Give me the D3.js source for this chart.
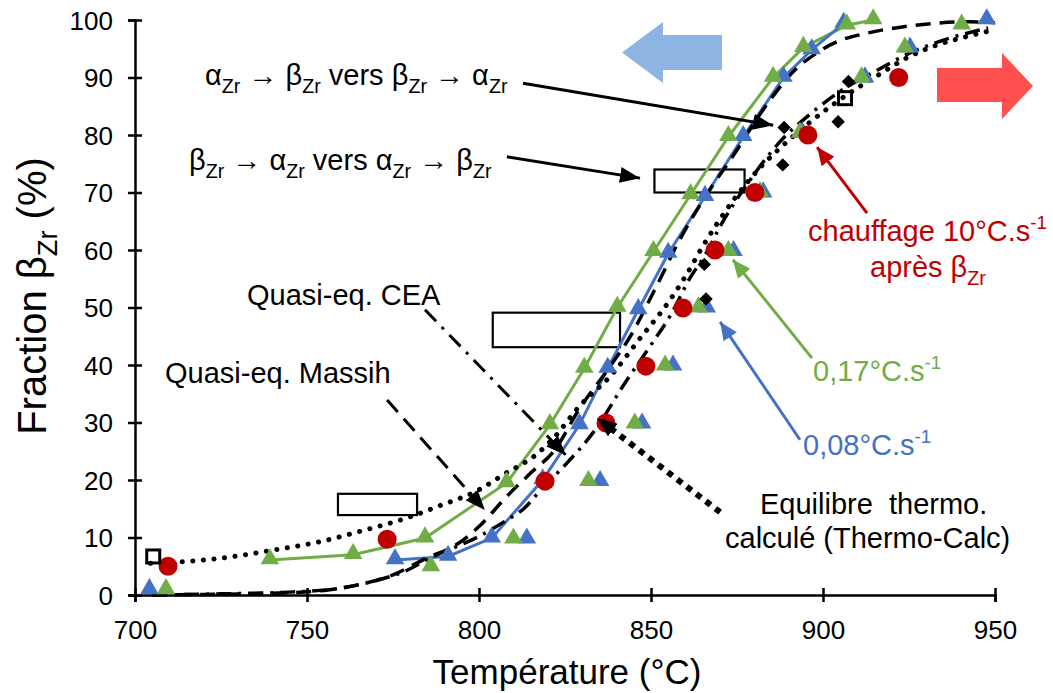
<!DOCTYPE html>
<html><head><meta charset="utf-8">
<script src="https://cdn.jsdelivr.net/npm/d3@7"></script>
<style>
html,body{margin:0;padding:0;background:#fff;}
svg text{font-family:"Liberation Sans",Arial,sans-serif;}
</style></head>
<body>
<svg id="c" width="1053" height="693"></svg>
<script>
// ---------- DATA ----------
const tempTicks = [700, 750, 800, 850, 900, 950];
const fracTicks = [0, 10, 20, 30, 40, 50, 60, 70, 80, 90, 100];

// 0,17 °C/s cooling (connected green)
const greenLineT = [739.2, 763.4, 784.3, 808, 820.6, 830.6, 840.2, 850.7, 861.5, 872.5, 885.5, 894.3, 906.9, 914.6];
const greenLineF = [6.1, 7.0, 9.9, 19.5, 29.6, 39.4, 50.0, 59.7, 69.6, 79.7, 90.0, 95.2, 99.1, 100];
// 0,08 °C/s cooling (connected blue)
const blueLineT = [775.6, 791, 803.7, 818.5, 829.2, 837.4, 846.3, 855, 865.7, 876.8, 888.5, 896.7, 906];
const blueLineF = [6.1, 6.7, 9.9, 20.0, 29.6, 39.4, 49.6, 59.4, 69.3, 79.7, 90.0, 94.8, 99.4];
// 0,17 °C/s heating (green, unconnected)
const greenPtsT = [709, 786, 810, 831.8, 845.3, 854.1, 863.8, 872.5, 881.7, 893.3, 911.2, 923.8, 940.3];
const greenPtsF = [0.9, 4.9, 9.7, 19.7, 29.7, 39.8, 49.9, 59.7, 69.9, 80.3, 89.9, 95.1, 99.1];
// 0,08 °C/s heating (blue, unconnected)
const bluePtsT = [704.2, 813.9, 835.2, 847.4, 856.4, 866.2, 874, 882.6, 894, 912.2, 925.3, 947.6];
const bluePtsF = [0.9, 9.7, 19.7, 29.7, 39.8, 49.9, 59.7, 69.9, 80.3, 89.9, 95.1, 100];
// chauffage 10 °C/s après beta (red circles)
const redT = [709.6, 773.3, 819.2, 836.9, 848.5, 859.3, 868.6, 880.2, 895.6, 922];
const redF = [5, 9.7, 19.8, 29.9, 39.8, 49.9, 60, 70, 80, 90];
// black diamonds
const diamondT = [866, 865.5, 888.3, 888.7, 904.4, 907.4];
const diamondF = [51.5, 57.5, 74.8, 81.3, 82.3, 89.3];
// open squares
const squareT = [705.3, 906.4];
const squareF = [6.7, 86.4];

// Equilibre thermo. calculé (Thermo-Calc) – dotted
const tcT = [704.5, 714, 725, 740, 754, 765, 780, 788, 800, 807, 817, 822, 829, 839, 846, 855.5, 860, 865, 874, 882, 888, 897, 909, 916, 925, 932, 941, 950];
const tcF = [5.5, 5.8, 6.4, 7.8, 9.3, 11, 13.6, 15.4, 18.3, 20.9, 24.6, 27.5, 32.7, 38.6, 44, 51.3, 55.4, 60.6, 68.7, 74.5, 78, 82.6, 87.8, 90.4, 93.6, 95.4, 97, 98.3];
// Quasi-eq. Massih – dashed
const massihT = [705, 720, 740, 755, 765, 775, 785, 792.5, 800, 808, 815, 822, 829, 838, 844, 851, 859, 867, 874, 881, 886, 891, 898, 904, 912.7, 923, 932, 942.7, 950];
const massihF = [0, 0.1, 0.3, 0.8, 1.8, 3.5, 6.5, 8.4, 11.9, 17.1, 21.2, 25.2, 32.2, 39.7, 45, 53, 62.5, 70.4, 76.5, 83, 87.2, 90.8, 94.2, 96.2, 97.7, 98.8, 99.4, 99.7, 99.5];
// Quasi-eq. CEA – dash-dot
const ceaT = [705, 725, 745, 760, 770, 778, 786, 800, 808, 813, 818, 825.5, 833, 843, 850, 856, 861, 866, 870, 878, 887, 897, 906, 915, 925, 935, 948];
const ceaF = [0, 0.2, 0.5, 1.2, 2.5, 4, 6.5, 10.2, 13, 15, 18.3, 22.9, 28.1, 37.4, 43.5, 49, 54.8, 59.4, 64, 71.5, 78.5, 84, 88, 91, 94.2, 96.5, 98.6];

// ---------- SETUP ----------
const svg = d3.select("#c");
const x = d3.scaleLinear().domain([700, 950]).range([135, 995]);
const y = d3.scaleLinear().domain([0, 100]).range([595, 20]);
const zip = (a, b) => a.map((v, i) => [v, b[i]]);

const GREEN = "#70AD47", BLUE = "#4472C4", RED = "#C00000";

// defs: arrow markers
const defs = svg.append("defs");
function marker(id, color, w, h) {
  defs.append("marker").attr("id", id)
    .attr("viewBox", `0 0 ${w} ${h}`).attr("refX", w).attr("refY", h / 2)
    .attr("markerWidth", w).attr("markerHeight", h)
    .attr("markerUnits", "userSpaceOnUse").attr("orient", "auto")
    .append("path").attr("d", `M0,0 L${w},${h/2} L0,${h} Z`).attr("fill", color);
}
marker("mk", "#000", 20, 16);
marker("mkr", RED, 18, 16);
marker("mkg", GREEN, 18, 16);
marker("mkb", BLUE, 18, 16);

// ---------- BIG DIRECTION ARROWS ----------
svg.append("path").attr("fill", "#8DB4E2")
  .attr("d", "M622,52.5 L663,22 L663,35 L722,35 L722,70 L663,70 L663,83 Z");
svg.append("path").attr("fill", "#FF5050")
  .attr("d", "M937,68 L1002,68 L1002,53 L1033,86 L1002,119 L1002,102 L937,102 Z");

// ---------- AXES ----------
const gx = svg.append("g").attr("transform", `translate(0,${y(0)})`)
  .call(d3.axisBottom(x).tickValues(tempTicks).tickSizeOuter(0).tickSize(7));
gx.select(".domain").attr("stroke-width", 2.5).attr("stroke", "#000");
gx.selectAll(".tick line").attr("y1", -7).attr("y2", 7).attr("stroke-width", 2.5);
gx.selectAll(".tick text").attr("y", 44).attr("dy", null)
  .attr("font-size", 26).attr("fill", "#000").attr("font-family", "Liberation Sans, Arial, sans-serif");

const gy = svg.append("g").attr("transform", `translate(${x(700)},0)`)
  .call(d3.axisLeft(y).tickValues(fracTicks).tickSizeOuter(0).tickSize(7));
gy.select(".domain").attr("stroke-width", 2.5).attr("stroke", "#000");
gy.selectAll(".tick line").attr("x1", -7).attr("x2", 7).attr("stroke-width", 2.5);
gy.selectAll(".tick text").attr("x", -22).attr("dy", "0.35em")
  .attr("font-size", 26).attr("fill", "#000").attr("font-family", "Liberation Sans, Arial, sans-serif");

// ---------- rich text helper ----------
function rich(parent, px, py, segs, size, fill, opts = {}) {
  const t = parent.append("text").attr("x", px).attr("y", py)
    .attr("font-size", size).attr("fill", fill)
    .attr("text-anchor", opts.anchor || "start")
    .style("white-space", "pre");
  if (opts.transform) t.attr("transform", opts.transform);
  let off = 0;
  segs.forEach(s => {
    let target = 0, fs = size;
    if (s.sub) { target = size * 0.28; fs = size * 0.68; }
    if (s.sup) { target = -size * 0.42; fs = size * 0.65; }
    t.append("tspan").attr("dy", target - off).attr("font-size", fs).text(s.t);
    off = target;
  });
  return t;
}

// axis titles
rich(svg, 567, 684, [{t: "Température (°C)"}], 35, "#000", {anchor: "middle"});
rich(svg, 0, 0, [{t: "Fraction β"}, {t: "Zr", sub: true}, {t: " (%)"}], 40, "#000",
  {anchor: "middle", transform: "translate(46,296) rotate(-90)"});

// ---------- ANNOTATION RECTANGLES ----------
const rects = [[759, 782, 13.9, 17.6], [804, 841, 43.1, 49.1], [851, 877.2, 70, 74]];
svg.append("g").selectAll("rect").data(rects).join("rect")
  .attr("x", d => x(d[0])).attr("y", d => y(d[3]))
  .attr("width", d => x(d[1]) - x(d[0])).attr("height", d => y(d[2]) - y(d[3]))
  .attr("fill", "none").attr("stroke", "#000").attr("stroke-width", 2.2);

// ---------- COLORED SERIES LINES ----------
const line = d3.line().x(d => x(d[0])).y(d => y(d[1]));
svg.append("path").datum(zip(greenLineT, greenLineF)).attr("d", line)
  .attr("fill", "none").attr("stroke", GREEN).attr("stroke-width", 3);
svg.append("path").datum(zip(blueLineT, blueLineF)).attr("d", line)
  .attr("fill", "none").attr("stroke", BLUE).attr("stroke-width", 3);

// ---------- MODEL CURVES ----------
const curve = d3.line().curve(d3.curveMonotoneX).x(d => x(d[0])).y(d => y(d[1]));
svg.append("path").datum(zip(massihT, massihF)).attr("d", curve)
  .attr("fill", "none").attr("stroke", "#000").attr("stroke-width", 3.5)
  .attr("stroke-dasharray", "15 9");
svg.append("path").datum(zip(ceaT, ceaF)).attr("d", curve)
  .attr("fill", "none").attr("stroke", "#000").attr("stroke-width", 3.5)
  .attr("stroke-dasharray", "15 7 3 7");
svg.append("path").datum(zip(tcT, tcF)).attr("d", curve)
  .attr("fill", "none").attr("stroke", "#000").attr("stroke-width", 5)
  .attr("stroke-linecap", "round").attr("stroke-dasharray", "0.1 10.5");

// ---------- MARKERS ----------
const tri = d3.symbol(d3.symbolTriangle, 150);
function triangles(T, F, color) {
  svg.append("g").selectAll("path").data(zip(T, F)).join("path")
    .attr("d", tri).attr("fill", color)
    .attr("transform", d => `translate(${x(d[0])},${y(d[1]) - 1})`);
}
triangles(blueLineT, blueLineF, BLUE);
triangles(greenLineT, greenLineF, GREEN);
triangles(bluePtsT, bluePtsF, BLUE);
triangles(greenPtsT, greenPtsF, GREEN);

svg.append("g").selectAll("circle").data(zip(redT, redF)).join("circle")
  .attr("cx", d => x(d[0])).attr("cy", d => y(d[1])).attr("r", 9.5).attr("fill", RED);

svg.append("g").selectAll("path").data(zip(diamondT, diamondF)).join("path")
  .attr("d", d3.symbol(d3.symbolSquare, 90))
  .attr("transform", d => `translate(${x(d[0])},${y(d[1])}) rotate(45)`).attr("fill", "#000");

svg.append("g").selectAll("rect").data(zip(squareT, squareF)).join("rect")
  .attr("x", d => x(d[0]) - 6.5).attr("y", d => y(d[1]) - 6.5)
  .attr("width", 13).attr("height", 13)
  .attr("fill", "none").attr("stroke", "#000").attr("stroke-width", 3);

// ---------- LEADER ARROWS ----------
const leaders = [
  {from: [812.8, 89.0], to: [885.5, 81.7], color: "#000", mk: "mk", w: 3, dash: null},
  {from: [808.1, 76.2], to: [846.8, 72.5], color: "#000", mk: "mk", w: 3, dash: null},
  {from: [773.3, 33.9], to: [801.7, 14.8], color: "#000", mk: "mk", w: 3, dash: "16 9"},
  {from: [784.3, 49.6], to: [825.3, 24.3], color: "#000", mk: "mk", w: 3, dash: "16 8 3 8"},
  {from: [870.1, 14.4], to: [834.3, 30.8], color: "#000", mk: "mk", w: 6, dash: "6 6"},
  {from: [912.8, 66.4], to: [898.3, 77.9], color: RED, mk: "mkr", w: 3, dash: null},
  {from: [896.8, 41.2], to: [873.8, 58.3], color: GREEN, mk: "mkg", w: 3, dash: null},
  {from: [893.3, 27.0], to: [870.1, 47.5], color: BLUE, mk: "mkb", w: 3, dash: null}
];
leaders.forEach(l => {
  const p = svg.append("line")
    .attr("x1", x(l.from[0])).attr("y1", y(l.from[1]))
    .attr("x2", x(l.to[0])).attr("y2", y(l.to[1]))
    .attr("stroke", l.color).attr("stroke-width", l.w)
    .attr("marker-end", `url(#${l.mk})`);
  if (l.dash) p.attr("stroke-dasharray", l.dash);
});

// ---------- ANNOTATION TEXT ----------
const FS = 29;
rich(svg, 205, 85, [{t: "α"}, {t: "Zr", sub: true}, {t: " → β"}, {t: "Zr", sub: true},
  {t: " vers β"}, {t: "Zr", sub: true}, {t: " → α"}, {t: "Zr", sub: true}], FS, "#000");
rich(svg, 189, 170, [{t: "β"}, {t: "Zr", sub: true}, {t: " → α"}, {t: "Zr", sub: true},
  {t: " vers α"}, {t: "Zr", sub: true}, {t: " → β"}, {t: "Zr", sub: true}], FS, "#000");
rich(svg, 247, 305, [{t: "Quasi-eq. CEA"}], FS, "#000");
rich(svg, 165, 383, [{t: "Quasi-eq. Massih"}], FS, "#000");
rich(svg, 808, 241, [{t: "chauffage 10°C.s"}, {t: "-1", sup: true}], FS, RED);
rich(svg, 870, 277, [{t: "après β"}, {t: "Zr", sub: true}], FS, RED);
rich(svg, 813, 381, [{t: "0,17°C.s"}, {t: "-1", sup: true}], FS, GREEN);
rich(svg, 803, 455, [{t: "0,08°C.s"}, {t: "-1", sup: true}], FS, BLUE);
rich(svg, 760, 514, [{t: "Equilibre  thermo."}], FS, "#000");
rich(svg, 725, 548, [{t: "calculé (Thermo-Calc)"}], FS, "#000");
</script>
</body></html>
